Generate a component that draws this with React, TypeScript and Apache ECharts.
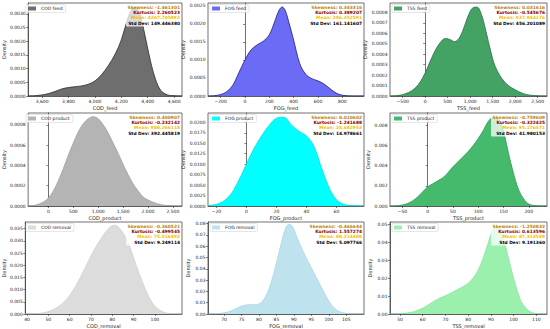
import React, { useEffect, useRef } from "react";
import * as echarts from "echarts";

// ---------- data ----------
const codFeedX = [3494, 3550, 3600, 3650, 3700, 3750, 3800, 3850, 3900, 3950, 4000, 4050, 4100, 4150, 4200, 4250, 4280, 4305, 4330, 4355, 4380, 4420, 4460, 4500, 4550, 4600, 4660];
const codFeedY = [0, 0.00001, 0.00004, 0.00009, 0.00017, 0.00026, 0.00031, 0.00034, 0.00037, 0.00043, 0.00055, 0.00078, 0.0011, 0.0015, 0.00205, 0.00285, 0.00317, 0.00325, 0.00312, 0.00275, 0.0022, 0.0013, 0.0006, 0.0002, 0.00004, 0.00001, 0];

const fogFeedX = [-304, -250, -200, -150, -100, -50, 0, 50, 100, 150, 200, 250, 280, 305, 330, 360, 400, 450, 500, 550, 600, 650, 700, 750, 800, 880, 978];
const fogFeedY = [0, 0.00001, 0.00004, 0.00012, 0.0003, 0.00065, 0.001, 0.00128, 0.00142, 0.00152, 0.0017, 0.00212, 0.00238, 0.00247, 0.00238, 0.00205, 0.00155, 0.0009, 0.0006, 0.00048, 0.00042, 0.00033, 0.0002, 0.00008, 0.00002, 0, 0];

const tssFeedX = [-782, -600, -450, -300, -150, 0, 150, 300, 450, 550, 650, 750, 850, 950, 1050, 1150, 1250, 1350, 1450, 1550, 1700, 1850, 2000, 2200, 2450, 2708];
const tssFeedY = [0, 0.000005, 0.00002, 0.00005, 0.00011, 0.00022, 0.00037, 0.00049, 0.00055, 0.00054, 0.00052, 0.00055, 0.00064, 0.00076, 0.00084, 0.00085, 0.00078, 0.00062, 0.00044, 0.00029, 0.00017, 0.0001, 0.00006, 0.00002, 0.000003, 0];

const codProductX = [-408, -250, -100, 0, 100, 200, 300, 400, 500, 600, 700, 800, 900, 1000, 1100, 1200, 1300, 1400, 1500, 1600, 1700, 1800, 1900, 2000, 2200, 2400, 2684];
const codProductY = [0, 0.00001, 0.00004, 0.00008, 0.00015, 0.00025, 0.00037, 0.0005, 0.00062, 0.00073, 0.00081, 0.00086, 0.00088, 0.00086, 0.0008, 0.00072, 0.00062, 0.00052, 0.00041, 0.00031, 0.00022, 0.00015, 0.00009, 0.00006, 0.00002, 0.000004, 0];

const fogProductX = [-25.6, -20, -15, -10, -5, 0, 5, 10, 15, 20, 25, 30, 35, 40, 45, 50, 55, 60, 65, 70, 78.4];
const fogProductY = [0.0001, 0.0004, 0.0012, 0.003, 0.0062, 0.01, 0.0137, 0.0167, 0.0192, 0.021, 0.0212, 0.0194, 0.0179, 0.0168, 0.0143, 0.0092, 0.0045, 0.0015, 0.0004, 0.0001, 0];

const tssProductX = [-74.5, -60, -50, -40, -30, -20, -10, 0, 10, 20, 30, 40, 50, 60, 70, 80, 90, 100, 110, 120, 130, 140, 150, 160, 170, 180, 190, 200, 215, 236];
const tssProductY = [0, 0.00003, 0.0001, 0.00025, 0.0005, 0.0009, 0.0014, 0.0019, 0.0022, 0.0025, 0.0028, 0.0033, 0.0039, 0.0044, 0.0049, 0.0054, 0.006, 0.0067, 0.0075, 0.0084, 0.0088, 0.0086, 0.0074, 0.0052, 0.0032, 0.0016, 0.0007, 0.0002, 0.00003, 0];

const codRemovalX = [39.2, 43, 47, 51, 55, 59, 63, 67, 71, 75, 79, 81, 83, 87, 91, 95, 99, 103, 107, 112.7];
const codRemovalY = [0.00005, 0.0001, 0.0004, 0.0013, 0.0032, 0.0065, 0.0117, 0.0185, 0.0255, 0.0313, 0.0357, 0.0364, 0.0356, 0.0303, 0.0205, 0.0113, 0.0043, 0.0012, 0.0002, 0];

const fogRemovalX = [65.4, 67, 69, 71, 73, 75, 77, 79, 80.5, 82, 83.5, 85, 86.5, 87.6, 88.6, 89.6, 91, 92.5, 94, 95.5, 97, 98.5, 100, 101.5, 103, 105, 107, 110.1];
const fogRemovalY = [0.00005, 0.0002, 0.0006, 0.0017, 0.004, 0.007, 0.0082, 0.0083, 0.0098, 0.016, 0.028, 0.045, 0.064, 0.0755, 0.0795, 0.0775, 0.067, 0.0565, 0.047, 0.038, 0.029, 0.02, 0.0115, 0.0055, 0.0022, 0.0006, 0.0001, 0];

const tssRemovalX = [45.6, 50, 53, 56, 59, 62, 65, 68, 71, 74, 77, 80, 83, 86, 89, 90.5, 92, 93.3, 94.5, 96, 98, 100, 102, 104, 107, 110, 114.7];
const tssRemovalY = [0, 0.0001, 0.0005, 0.0013, 0.0027, 0.0048, 0.0072, 0.0092, 0.0108, 0.0128, 0.0148, 0.0172, 0.0215, 0.0292, 0.0405, 0.0462, 0.0491, 0.0488, 0.0462, 0.04, 0.03, 0.02, 0.0115, 0.0055, 0.0015, 0.0003, 0];

// axis tick labels
const codFeedTicks = [3600, 3800, 4000, 4200, 4400, 4600];
const fogFeedTicks = [-200, 0, 200, 400, 600, 800];
const tssFeedTicks = [-500, 0, 500, 1000, 1500, 2000, 2500];
const codProductTicks = [0, 500, 1000, 1500, 2000, 2500];
const fogProductTicks = [-20, 0, 20, 40, 60];
const tssProductTicks = [-50, 0, 50, 100, 150, 200];
const codRemovalTicks = [40, 50, 60, 70, 80, 90, 100];
const fogRemovalTicks = [70, 75, 80, 85, 90, 95, 100, 105];
const tssRemovalTicks = [50, 60, 70, 80, 90, 100, 110];

const codFeedYTicks = [0, 0.0005, 0.001, 0.0015, 0.002, 0.0025, 0.003];
const fogFeedYTicks = [0, 0.0005, 0.001, 0.0015, 0.002, 0.0025];
const tssFeedYTicks = [0, 0.0001, 0.0002, 0.0003, 0.0004, 0.0005, 0.0006, 0.0007, 0.0008];
const codProductYTicks = [0, 0.0002, 0.0004, 0.0006, 0.0008];
const fogProductYTicks = [0, 0.0025, 0.005, 0.0075, 0.01, 0.0125, 0.015, 0.0175, 0.02];
const tssProductYTicks = [0, 0.002, 0.004, 0.006, 0.008];
const codRemovalYTicks = [0, 0.005, 0.01, 0.015, 0.02, 0.025, 0.03, 0.035];
const fogRemovalYTicks = [0, 0.01, 0.02, 0.03, 0.04, 0.05, 0.06, 0.07, 0.08];
const tssRemovalYTicks = [0, 0.01, 0.02, 0.03, 0.04, 0.05];

// statistics texts
const skewness = ["-1.461301", "0.343316", "0.031616", "0.400907", "0.010602", "-0.759609", "-0.360521", "-0.466644", "-1.250832"];
const kurtosis = ["2.260523", "0.389207", "-0.545676", "-0.232142", "-1.241688", "-0.322425", "-0.499545", "1.557274", "0.613596"];
const means = ["4267.705892", "296.352591", "937.943176", "988.266118", "24.682953", "95.176471", "75.516492", "88.214488", "87.313588"];
const stdDevs = ["149.446380", "161.141607", "456.201089", "392.445819", "14.978661", "41.980153", "9.249114", "5.097766", "9.191360"];

const names = ["COD_feed", "FOG_feed", "TSS_feed", "COD_product", "FOG_product", "TSS_product", "COD_removal", "FOG_removal", "TSS_removal"];

const panels = [
  { x: codFeedX, y: codFeedY, xt: codFeedTicks, yt: codFeedYTicks, xmin: 3494, xmax: 4660, ymax: 0.0034, dec: 4, fill: "#6e6e6e", line: "#2a2a2a" },
  { x: fogFeedX, y: fogFeedY, xt: fogFeedTicks, yt: fogFeedYTicks, xmin: -304, xmax: 978, ymax: 0.00258, dec: 4, fill: "#6b6bf6", line: "#1e1e78" },
  { x: tssFeedX, y: tssFeedY, xt: tssFeedTicks, yt: tssFeedYTicks, xmin: -782, xmax: 2708, ymax: 0.000889, dec: 4, fill: "#44a264", line: "#2a6d42" },
  { x: codProductX, y: codProductY, xt: codProductTicks, yt: codProductYTicks, xmin: -408, xmax: 2684, ymax: 0.000916, dec: 4, fill: "#b4b4b4", line: "#a0a0a0" },
  { x: fogProductX, y: fogProductY, xt: fogProductTicks, yt: fogProductYTicks, xmin: -25.6, xmax: 78.4, ymax: 0.02224, dec: 4, fill: "#00ffff", line: "#00e0e0" },
  { x: tssProductX, y: tssProductY, xt: tssProductTicks, yt: tssProductYTicks, xmin: -74.5, xmax: 236, ymax: 0.00923, dec: 3, fill: "#45b96c", line: "#2e9a55" },
  { x: codRemovalX, y: codRemovalY, xt: codRemovalTicks, yt: codRemovalYTicks, xmin: 39.2, xmax: 112.7, ymax: 0.03774, dec: 3, fill: "#dcdcdc", line: "#d0d0d0" },
  { x: fogRemovalX, y: fogRemovalY, xt: fogRemovalTicks, yt: fogRemovalYTicks, xmin: 65.4, xmax: 110.1, ymax: 0.0815, dec: 2, fill: "#bfe3ee", line: "#a8d4e2" },
  { x: tssRemovalX, y: tssRemovalY, xt: tssRemovalTicks, yt: tssRemovalYTicks, xmin: 45.6, xmax: 114.7, ymax: 0.0515, dec: 2, fill: "#9cf0ae", line: "#86e49c" },
];

const colLeft = [24, 208, 390];
const colWidth = [158, 156, 157];
const rowTop = [3, 113, 222];
const rowHeight = 93;

const FONT = "DejaVu Sans";

function fmtX(v: number) {
  const s = Math.abs(v).toLocaleString("en-US", { maximumFractionDigits: 2 });
  return (v < 0 ? "\u2212" : "") + s;
}

export default function App() {
  const ref = useRef<HTMLDivElement>(null);
  useEffect(() => {
    if (!ref.current) return;
    const chart = echarts.init(ref.current, null, { renderer: "svg" });
    const grid: any[] = [];
    const xAxis: any[] = [];
    const yAxis: any[] = [];
    const series: any[] = [];
    const legend: any[] = [];
    const graphic: any[] = [];
    panels.forEach((p, i) => {
      const r = Math.floor(i / 3);
      const c = i % 3;
      const left = colLeft[c];
      const top = rowTop[r];
      const width = colWidth[c];
      const label = names[i].replace("_", " ");
      grid.push({ left, top, width, height: rowHeight, show: true, borderColor: "#333", borderWidth: 0.7, backgroundColor: "transparent", containLabel: false });
      xAxis.push({
        type: "value", gridIndex: i, min: p.xmin, max: p.xmax,
        name: names[i], nameLocation: "middle", nameGap: 9,
        nameTextStyle: { fontSize: 5, fontFamily: FONT, color: "#222" },
        axisLine: { show: true, lineStyle: { color: "#333", width: 0.7 } },
        axisTick: { show: true, length: 2, lineStyle: { color: "#333", width: 0.6 }, customValues: p.xt },
        axisLabel: { show: true, fontSize: 4.5, fontFamily: FONT, color: "#222", margin: 2.5, customValues: p.xt, formatter: (v: number) => fmtX(v) },
        splitLine: { show: false },
      });
      yAxis.push({
        type: "value", gridIndex: i, min: 0, max: p.ymax,
        name: "Density", nameLocation: "middle", nameGap: c === 0 ? 17 : 18,
        nameTextStyle: { fontSize: 5, fontFamily: FONT, color: "#222" },
        axisLine: { show: true, lineStyle: { color: "#333", width: 0.7 } },
        axisTick: { show: true, length: 2, lineStyle: { color: "#333", width: 0.6 }, customValues: p.yt },
        axisLabel: { show: true, fontSize: 4.5, fontFamily: FONT, color: "#222", margin: 2.5, customValues: p.yt, formatter: (v: number) => v.toFixed(p.dec) },
        splitLine: { show: false },
      });
      series.push({
        name: label, type: "line", xAxisIndex: i, yAxisIndex: i,
        data: p.x.map((xv, k) => [xv, p.y[k]]),
        smooth: 0.35, showSymbol: false, symbol: "none",
        lineStyle: { color: p.line, width: 0.8 },
        areaStyle: { color: p.fill, opacity: 1 },
        itemStyle: { color: p.fill },
      });
      legend.push({
        data: [{ name: label, icon: "rect" }], left: left + 2, top: top + 1.5,
        itemWidth: 8, itemHeight: 4, itemGap: 2, padding: [1.5, 3, 1.5, 2],
        backgroundColor: "rgba(255,255,255,0.8)", borderColor: "#cccccc", borderWidth: 0.5, borderRadius: 1,
        textStyle: { fontSize: 4.5, fontFamily: FONT, color: "#222", padding: [0, 0, 0, 0] },
        selectedMode: false,
      });
      const right = left + width - 2;
      const lines = [
        { t: `Skewness: ${skewness[i]}`, col: "#b8860b" },
        { t: `Kurtosis: ${kurtosis[i]}`, col: "#8b0000" },
        { t: `Mean: ${means[i]}`, col: "#f2c200" },
        { t: `Std Dev: ${stdDevs[i]}`, col: "#000000" },
      ];
      graphic.push({
        type: "rect", left: right - 54, top: top + 1.5, shape: { width: 55, height: 22, r: 1 },
        style: { fill: "rgba(255,255,255,0.75)" }, z: 10,
      });
      lines.forEach((ln, k) => {
        graphic.push({
          type: "text", x: right, y: top + 2.5 + k * 5.2, z: 11,
          style: { text: ln.t, align: "right", verticalAlign: "top", fontSize: 4.4, fontWeight: "bold", fontFamily: FONT, fill: ln.col },
        });
      });
    });
    chart.setOption({
      animation: false,
      backgroundColor: "#ffffff",
      grid, xAxis, yAxis, series, legend, graphic,
    });
    return () => chart.dispose();
  }, []);
  return <div ref={ref} style={{ position: "fixed", left: 0, top: 0, width: 550, height: 329 }} />;
}
